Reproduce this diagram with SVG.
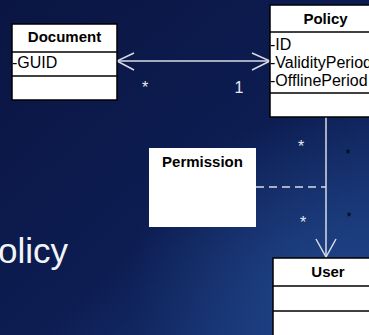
<svg xmlns="http://www.w3.org/2000/svg" width="369" height="335" viewBox="0 0 369 335">
<defs>
<linearGradient id="bg" x1="0" y1="0" x2="1" y2="1">
<stop offset="0" stop-color="#0a1542"/>
<stop offset="0.55" stop-color="#0d1d52"/>
<stop offset="1" stop-color="#1b3d82"/>
</linearGradient>
<radialGradient id="glow" cx="0.85" cy="0.85" r="0.5">
<stop offset="0" stop-color="#2a5aa0" stop-opacity="0.45"/>
<stop offset="1" stop-color="#2a5aa0" stop-opacity="0"/>
</radialGradient>
</defs>
<style>
.box{fill:#fff;stroke:#000;stroke-width:1.5}
.sep{stroke:#000;stroke-width:1.5}
.title{font-family:"Liberation Sans",Arial,sans-serif;font-size:15px;font-weight:bold;fill:#000;text-anchor:middle}
.attr{font-family:"Liberation Sans",Arial,sans-serif;font-size:16px;fill:#000}
.conn{stroke:#d8dbe6;stroke-width:1.5;fill:none}
.lbl{font-family:"Liberation Sans",Arial,sans-serif;font-size:16px;fill:#e8eaf0}
</style>
<rect width="369" height="335" fill="url(#bg)"/>
<rect width="369" height="335" fill="url(#glow)"/>
<text x="-2" y="263" font-family="'Liberation Sans',Arial,sans-serif" font-size="35" fill="#f2f4f8">olicy</text>
<g id="connectors">
<line class="conn" x1="117" y1="61" x2="270" y2="61"/>
<polyline class="conn" points="134,53 117,61 134,70"/>
<polyline class="conn" points="252,53 270,61 252,70"/>
<line class="conn" x1="326" y1="117" x2="326" y2="257"/>
<polyline class="conn" points="316,239 326,257 336,239"/>
<line class="conn" x1="256" y1="187" x2="326" y2="187" stroke-dasharray="8,5"/>
<text class="lbl" x="145" y="93" text-anchor="middle" font-size="14">*</text>
<text class="lbl" x="239" y="93" text-anchor="middle">1</text>
<text class="lbl" x="301" y="152" text-anchor="middle" font-size="12">*</text>
<text class="lbl" x="303" y="228" text-anchor="middle" font-size="12">*</text>
<text x="348" y="158" text-anchor="middle" font-family="'Liberation Sans',Arial,sans-serif" font-size="12" fill="#000">*</text>
<text x="349" y="221" text-anchor="middle" font-family="'Liberation Sans',Arial,sans-serif" font-size="12" fill="#000">*</text>
</g>
<g id="document">
<rect class="box" x="12" y="24" width="105" height="76"/>
<line class="sep" x1="12" y1="52" x2="117" y2="52"/>
<line class="sep" x1="12" y1="76" x2="117" y2="76"/>
<text class="title" x="64.5" y="42">Document</text>
<text class="attr" x="12" y="68">-GUID</text>
</g>
<g id="policy">
<rect class="box" x="270" y="5" width="110" height="112"/>
<line class="sep" x1="270" y1="32" x2="380" y2="32"/>
<line class="sep" x1="270" y1="93" x2="380" y2="93"/>
<text class="title" x="325.5" y="24">Policy</text>
<text class="attr" x="270" y="50">-ID</text>
<text class="attr" x="270" y="68">-ValidityPeriod</text>
<text class="attr" x="270" y="86">-OfflinePeriod</text>
</g>
<g id="permission">
<rect x="149" y="148" width="107" height="79" fill="#fff"/>
<text class="title" x="202.5" y="167">Permission</text>
</g>
<g id="user">
<rect class="box" x="273" y="258" width="110" height="80"/>
<line class="sep" x1="273" y1="286" x2="383" y2="286"/>
<line class="sep" x1="273" y1="311" x2="383" y2="311"/>
<text class="title" x="328" y="277">User</text>
</g>
</svg>
